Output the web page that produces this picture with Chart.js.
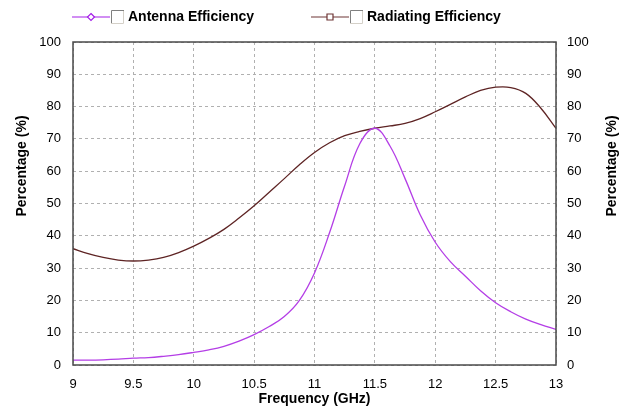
<!DOCTYPE html>
<html>
<head>
<meta charset="utf-8">
<script src="https://cdn.jsdelivr.net/npm/chart.js@4/dist/chart.umd.min.js"></script>
<style>
  html, body { margin: 0; padding: 0; background: #fff; }
  #wrap { width: 631px; height: 410px; }
</style>
</head>
<body>
<div id="wrap"><canvas id="effChart" width="631" height="410"></canvas></div>
<script>
// frequency points (GHz)
const freqs = [9, 9.125, 9.25, 9.375, 9.5, 9.625, 9.75, 9.875, 10, 10.125, 10.25, 10.375, 10.5, 10.625, 10.75, 10.875,
  11, 11.125, 11.25, 11.375, 11.5, 11.625, 11.75, 11.875, 12, 12.125, 12.25, 12.375, 12.5, 12.625, 12.75, 12.875, 13];

const antennaEff = [1.5, 1.5, 1.6, 1.8, 2.1, 2.3, 2.7, 3.2, 3.9, 4.7, 5.8, 7.4, 9.4, 11.9, 15, 20,
  28.5, 41, 55.5, 68.5, 73.3, 67.8, 57.7, 46.5, 38, 32, 27.5, 23, 19.3, 16.5, 14.2, 12.5, 11];

const radiatingEff = [36, 34.5, 33.3, 32.5, 32.2, 32.5, 33.3, 34.8, 36.8, 39.2, 42, 45.5, 49.3, 53.5, 57.7, 62,
  65.8, 68.8, 71, 72.3, 73.3, 74, 74.8, 76.3, 78.4, 80.7, 83, 85, 86, 85.9, 84.1, 79.5, 73.3];

const seriesNames = ['Antenna Efficiency', 'Radiating Efficiency'];
const yTicks = [0, 10, 20, 30, 40, 50, 60, 70, 80, 90, 100];
const xTicks = [9, 9.5, 10, 10.5, 11, 11.5, 12, 12.5, 13];

const FONT = 'Arial, "Liberation Sans", sans-serif';

const toPoints = arr => arr.map((v, i) => ({ x: freqs[i], y: v }));

// frame, axis titles and the legend with its little check boxes
const decorPlugin = {
  id: 'decor',
  afterDraw(chart) {
    const ctx = chart.ctx;
    const a = chart.chartArea;
    ctx.save();
    ctx.strokeStyle = '#4a4a4a';
    ctx.lineWidth = 1.5;
    ctx.strokeRect(a.left, a.top, a.right - a.left, a.bottom - a.top);

    ctx.fillStyle = '#000';
    ctx.font = 'bold 14px ' + FONT;
    ctx.textAlign = 'center';
    ctx.textBaseline = 'middle';
    ctx.fillText('Frequency (GHz)', (a.left + a.right) / 2, 399);

    ctx.save();
    ctx.translate(22, 166);
    ctx.rotate(-Math.PI / 2);
    ctx.fillText('Percentage (%)', 0, 0);
    ctx.restore();
    ctx.save();
    ctx.translate(612, 166);
    ctx.rotate(-Math.PI / 2);
    ctx.fillText('Percentage (%)', 0, 0);
    ctx.restore();

    // legend
    const items = [
      { x0: 72, color: '#a41ee8', marker: 'diamond' },
      { x0: 311, color: '#6e3636', marker: 'square' }
    ];
    const ly = 17;
    items.forEach((it, i) => {
      ctx.strokeStyle = it.color;
      ctx.lineWidth = 1.2;
      ctx.beginPath();
      ctx.moveTo(it.x0, ly);
      ctx.lineTo(it.x0 + 38, ly);
      ctx.stroke();
      const mx = it.x0 + 19;
      ctx.fillStyle = '#fff';
      ctx.beginPath();
      if (it.marker === 'diamond') {
        ctx.moveTo(mx, ly - 3.5); ctx.lineTo(mx + 3.5, ly);
        ctx.lineTo(mx, ly + 3.5); ctx.lineTo(mx - 3.5, ly);
        ctx.closePath();
      } else {
        ctx.rect(mx - 3, ly - 3, 6, 6);
      }
      ctx.fill();
      ctx.stroke();
      // check box
      const bx = it.x0 + 39;
      ctx.fillStyle = '#fff';
      ctx.fillRect(bx, ly - 7, 13, 13);
      ctx.lineWidth = 1;
      ctx.strokeStyle = '#808080';
      ctx.beginPath();
      ctx.moveTo(bx + 0.5, ly + 6); ctx.lineTo(bx + 0.5, ly - 6.5); ctx.lineTo(bx + 13, ly - 6.5);
      ctx.stroke();
      ctx.strokeStyle = '#d4d0c8';
      ctx.beginPath();
      ctx.moveTo(bx + 12.5, ly - 6); ctx.lineTo(bx + 12.5, ly + 6.5); ctx.lineTo(bx, ly + 6.5);
      ctx.stroke();
      ctx.fillStyle = '#000';
      ctx.font = 'bold 14px ' + FONT;
      ctx.textAlign = 'left';
      ctx.textBaseline = 'middle';
      ctx.fillText(seriesNames[i], bx + 17, ly);
    });
    ctx.restore();
  }
};

const ctx = document.getElementById('effChart').getContext('2d');
const effChart = new Chart(ctx, {
  type: 'line',
  data: {
    datasets: [{
      label: seriesNames[0],
      data: toPoints(antennaEff),
      borderColor: '#b43ee6',
      borderWidth: 1.3,
      pointRadius: 0,
      tension: 0.4,
      yAxisID: 'y'
    }, {
      label: seriesNames[1],
      data: toPoints(radiatingEff),
      borderColor: '#5e2424',
      borderWidth: 1.3,
      pointRadius: 0,
      tension: 0.4,
      yAxisID: 'y'
    }]
  },
  options: {
    responsive: false,
    animation: false,
    layout: { padding: { top: 42, left: 0, right: 0, bottom: 0 } },
    plugins: { legend: { display: false }, tooltip: { enabled: false } },
    scales: {
      x: {
        type: 'linear',
        min: 9, max: 13,
        afterFit: s => { s.height = 45; },
        afterBuildTicks: s => { s.ticks = xTicks.map(v => ({ value: v })); },
        ticks: { color: '#000', font: { family: FONT, size: 13 }, padding: 12, maxRotation: 0,
          callback: v => String(v) },
        grid: { color: '#b0b0b0', drawTicks: false, tickLength: 0 },
        border: { display: false, dash: [3, 3] }
      },
      y: {
        position: 'left',
        min: 0, max: 100,
        afterFit: s => { s.width = 73; },
        afterBuildTicks: s => { s.ticks = yTicks.map(v => ({ value: v })); },
        ticks: { color: '#000', font: { family: FONT, size: 13 }, padding: 12 },
        grid: { color: '#b0b0b0', drawTicks: false, tickLength: 0 },
        border: { display: false, dash: [3, 3] }
      },
      y2: {
        position: 'right',
        min: 0, max: 100,
        afterFit: s => { s.width = 75; },
        afterBuildTicks: s => { s.ticks = yTicks.map(v => ({ value: v })); },
        ticks: { color: '#000', font: { family: FONT, size: 13 }, padding: 11 },
        grid: { display: false, drawTicks: false },
        border: { display: false }
      }
    }
  },
  plugins: [decorPlugin]
});
</script>
</body>
</html>
